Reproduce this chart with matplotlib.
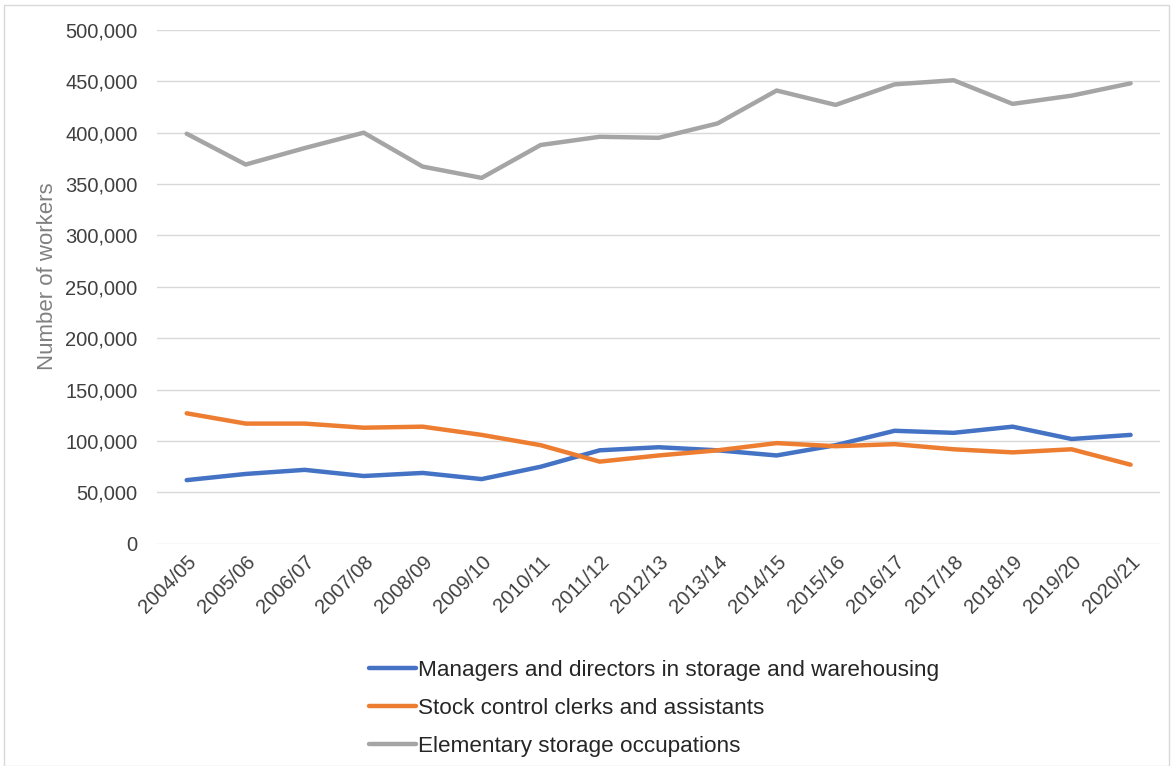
import numpy as np
import matplotlib.pyplot as plt
from matplotlib.ticker import FuncFormatter

years = ["2004/05", "2005/06", "2006/07", "2007/08", "2008/09", "2009/10", "2010/11",
         "2011/12", "2012/13", "2013/14", "2014/15", "2015/16", "2016/17", "2017/18",
         "2018/19", "2019/20", "2020/21"]
managers = [62000, 68000, 72000, 66000, 69000, 63000, 75000, 91000, 94000, 91000,
            86000, 96000, 110000, 108000, 114000, 102000, 106000]
clerks = [127000, 117000, 117000, 113000, 114000, 106000, 96000, 80000, 86000, 91000,
          98000, 95000, 97000, 92000, 89000, 92000, 77000]
elementary = [399000, 369000, 385000, 400000, 367000, 356000, 388000, 396000, 395000,
              409000, 441000, 427000, 447000, 451000, 428000, 436000, 448000]

plt.rcParams['font.family'] = ['Liberation Sans', 'DejaVu Sans']

fig = plt.figure(figsize=(11.73, 7.66), dpi=100)
fig.patch.set_facecolor('white')
ax = fig.add_axes([0.134, 0.290, 0.855, 0.671])

x = np.arange(len(years))
ax.plot(x, managers, color='#4472C4', lw=3.2, label='Managers and directors in storage and warehousing', solid_capstyle='round')
ax.plot(x, clerks, color='#ED7D31', lw=3.2, label='Stock control clerks and assistants', solid_capstyle='round')
ax.plot(x, elementary, color='#A5A5A5', lw=3.2, label='Elementary storage occupations', solid_capstyle='round')

ax.set_xlim(-0.5, len(years) - 0.5)
ax.set_ylim(0, 500000)
ax.set_yticks(np.arange(0, 500001, 50000))
ax.yaxis.set_major_formatter(FuncFormatter(lambda v, p: f"{int(v):,}"))
ax.grid(axis='y', color='#D9D9D9', lw=1)
ax.set_axisbelow(True)
for s in ax.spines.values():
    s.set_visible(False)
ax.tick_params(axis='both', length=0, labelsize=14.5, labelcolor='#404040')
ax.tick_params(axis='y', pad=14)
ax.tick_params(axis='x', pad=6)
ax.set_xticks(x)
ax.set_xticklabels(years, rotation=45, ha='right', rotation_mode='anchor')
ax.set_ylabel('Number of workers', fontsize=16, color='#808080')
ax.yaxis.set_label_coords(-0.099, 0.52)

fig.legend(loc='center left', bbox_to_anchor=(0.297, 0.075), ncol=1, frameon=False,
           fontsize=16.2, handlelength=2.1, handletextpad=0.1, labelspacing=0.76,
           labelcolor='#262626')

# outer frame
fig.add_artist(plt.Rectangle((0.003, 0.0), 0.994, 0.993, transform=fig.transFigure,
                             fill=False, edgecolor='#D9D9D9', lw=1))

fig.savefig('out.png', dpi=100)
